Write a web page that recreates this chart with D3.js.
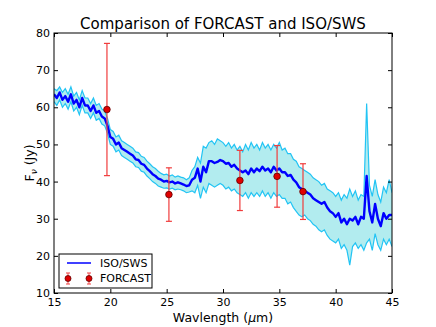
<!DOCTYPE html>
<html>
<head>
<meta charset="utf-8">
<script src="https://cdn.jsdelivr.net/npm/d3@7"></script>
<style>
  html, body { margin: 0; padding: 0; background: #fff; }
  svg { display: block; font-family: "DejaVu Sans", sans-serif; }
</style>
</head>
<body>
<svg width="436" height="327"></svg>
<script>
// ISO/SWS spectrum, 15 to 45 um in steps of 0.25 um
var wlStart = 15, wlStep = 0.25;

var sws = [
  63.5, 62.5, 64.0, 62.0, 63.0, 61.5, 63.5, 61.0, 62.0, 60.0,
  62.5, 60.5, 60.5, 59.0, 60.5, 58.5, 59.0, 57.5, 57.0, 55.0,
  52.0, 51.5, 50.0, 50.5, 49.0, 48.5, 48.0, 47.5, 47.0, 46.0,
  45.8, 44.8, 44.5, 43.5, 42.8, 42.0, 41.5, 40.8, 40.5, 40.0,
  40.2, 39.8, 40.0, 39.5, 39.8, 39.5, 39.2, 38.8, 39.0, 40.5,
  41.0, 43.5, 40.0, 44.0, 42.5, 45.5, 45.5, 45.0, 45.3, 45.8,
  45.5, 44.8, 45.0, 44.0, 44.5, 43.5, 43.0, 42.5, 43.0, 42.0,
  43.5, 42.5, 43.5, 42.8, 44.0, 43.0, 43.5, 42.5, 44.0, 43.0,
  43.5, 42.5, 42.5, 41.5, 41.8, 40.5, 39.8, 38.5, 38.0, 37.5,
  37.0, 36.5, 35.5, 35.0, 34.5, 34.0, 34.5, 33.0, 32.0, 31.5,
  30.5, 31.5, 29.0, 30.0, 28.5, 30.0, 29.5, 30.5, 28.5, 30.5,
  30.0, 41.5, 32.0, 29.0, 34.0, 30.0, 28.0, 31.5, 30.0, 31.0,
  31.0
];

var swsHi = [
  65.0, 64.5, 65.5, 64.0, 65.0, 63.5, 65.5, 63.0, 64.0, 62.0,
  64.5, 62.5, 62.5, 61.0, 62.5, 60.5, 61.0, 59.5, 59.0, 57.0,
  54.0, 53.5, 52.0, 52.5, 51.0, 50.5, 50.0, 49.5, 49.0, 48.0,
  47.8, 46.8, 46.5, 45.5, 44.8, 44.0, 43.5, 42.8, 42.2, 41.8,
  42.0, 41.5, 41.8, 41.2, 41.5, 41.2, 41.0, 40.5, 41.0, 43.0,
  44.0, 46.5, 45.0, 49.5, 49.0, 50.5, 51.0, 50.0, 51.5, 51.0,
  50.5, 49.5, 50.5, 49.0, 50.0, 48.5, 49.5, 48.0, 50.0, 48.5,
  50.5, 49.0, 50.0, 48.5, 50.5, 49.0, 50.0, 48.5, 50.0, 49.0,
  50.5, 48.5, 49.0, 47.5, 47.5, 46.0, 45.5, 44.0, 43.5, 43.0,
  42.5, 42.0, 41.0, 40.5, 40.0, 39.0, 39.5, 38.0, 37.5, 37.0,
  36.0, 37.0, 35.0, 36.5, 35.5, 38.0, 36.0, 37.5, 35.0, 36.5,
  36.0, 61.0, 39.0, 36.0, 40.5, 36.5, 34.5, 38.5, 37.0, 40.5,
  37.0
];

var swsLo = [
  61.5, 60.5, 62.0, 60.0, 61.0, 59.5, 61.5, 59.0, 60.0, 58.0,
  60.5, 58.5, 58.5, 57.0, 58.5, 56.5, 57.0, 55.5, 55.0, 53.0,
  50.0, 49.5, 48.0, 48.5, 47.0, 46.5, 46.0, 45.5, 45.0, 44.0,
  43.8, 42.8, 42.5, 41.5, 40.8, 40.0, 39.5, 38.8, 38.5, 38.2,
  38.3, 38.0, 38.2, 37.8, 38.0, 37.8, 37.5, 37.0, 37.2, 37.5,
  37.0, 39.0, 35.5, 38.5, 37.0, 39.5, 39.0, 38.5, 39.0, 39.5,
  39.0, 38.0, 38.5, 37.5, 38.0, 37.0, 36.5, 36.0, 37.0, 35.5,
  37.0, 36.0, 37.0, 36.0, 37.5, 36.0, 37.0, 35.5, 37.0, 36.0,
  36.5, 35.5, 35.5, 34.0, 34.5, 33.0, 32.0, 31.0, 30.5, 31.0,
  30.0, 29.5, 28.5, 28.0, 27.0, 26.5, 27.0, 25.5, 24.5, 24.0,
  23.5, 24.5, 22.0, 23.0, 21.5, 17.5, 22.5, 23.5, 22.0, 23.0,
  21.5, 23.5, 24.5, 21.5, 26.0, 23.0, 21.5, 24.5, 23.0, 24.5,
  22.5
];

// FORCAST photometry
var forcastWl = [19.7, 25.2, 31.5, 34.8, 37.1];
var forcastFlux = [59.4, 36.5, 40.3, 41.4, 37.3];
var forcastErr = [17.8, 7.2, 8.1, 8.3, 7.5];

var xTicks = [15, 20, 25, 30, 35, 40, 45];
var yTicks = [10, 20, 30, 40, 50, 60, 70, 80];

var svg = d3.select("svg"),
    plotL = 54, plotR = 392, plotT = 33, plotB = 293;

var x = d3.scaleLinear().domain([15, 45]).range([plotL, plotR]),
    y = d3.scaleLinear().domain([10, 80]).range([plotB, plotT]);

var spec = sws.map(function(v, i) {
  return { w: wlStart + i * wlStep, f: v, hi: swsHi[i], lo: swsLo[i] };
});

svg.append("clipPath").attr("id", "plotclip")
  .append("rect")
    .attr("x", plotL).attr("y", plotT)
    .attr("width", plotR - plotL).attr("height", plotB - plotT);

var plot = svg.append("g").attr("clip-path", "url(#plotclip)");

plot.append("path")
    .datum(spec)
    .attr("fill", "#b2ecef")
    .attr("d", d3.area()
        .x(function(d) { return x(d.w); })
        .y0(function(d) { return y(d.lo); })
        .y1(function(d) { return y(d.hi); }));

["hi", "lo"].forEach(function(k) {
  plot.append("path")
      .datum(spec)
      .attr("fill", "none")
      .attr("stroke", "#22c4f4")
      .attr("stroke-width", 1.2)
      .attr("d", d3.line()
          .x(function(d) { return x(d.w); })
          .y(function(d) { return y(d[k]); }));
});

plot.append("path")
    .datum(spec)
    .attr("fill", "none")
    .attr("stroke", "#0000ff")
    .attr("stroke-width", 2.4)
    .attr("stroke-linejoin", "round")
    .attr("d", d3.line()
        .x(function(d) { return x(d.w); })
        .y(function(d) { return y(d.f); }));

// error bars + points
var pts = forcastWl.map(function(w, i) {
  return { w: w, f: forcastFlux[i], e: forcastErr[i] };
});

var eb = plot.selectAll(".eb").data(pts).enter().append("g")
    .attr("stroke", "#f03c3c")
    .attr("stroke-width", 1.2);

eb.append("line")
    .attr("x1", function(d) { return x(d.w); })
    .attr("x2", function(d) { return x(d.w); })
    .attr("y1", function(d) { return y(d.f - d.e); })
    .attr("y2", function(d) { return y(d.f + d.e); });

[-1, 1].forEach(function(s) {
  eb.append("line")
      .attr("x1", function(d) { return x(d.w) - 3; })
      .attr("x2", function(d) { return x(d.w) + 3; })
      .attr("y1", function(d) { return y(d.f + s * d.e); })
      .attr("y2", function(d) { return y(d.f + s * d.e); });
});

plot.selectAll(".pt").data(pts).enter().append("circle")
    .attr("cx", function(d) { return x(d.w); })
    .attr("cy", function(d) { return y(d.f); })
    .attr("r", 3.3)
    .attr("fill", "#e00000")
    .attr("stroke", "#600000")
    .attr("stroke-width", 0.8);

// axes, ticks pointing inward on all sides
function styleAxis(g) {
  g.select(".domain").remove();
  g.selectAll("line").attr("stroke", "#000");
  g.selectAll("text").attr("fill", "#000")
      .style("font-family", "DejaVu Sans, sans-serif")
      .style("font-size", "11px");
}

svg.append("g")
    .attr("transform", "translate(0," + plotB + ")")
    .call(d3.axisBottom(x).tickValues(xTicks).tickFormat(d3.format("d"))
        .tickSizeInner(-4).tickSizeOuter(0).tickPadding(5))
    .call(styleAxis);

svg.append("g")
    .attr("transform", "translate(0," + plotT + ")")
    .call(d3.axisTop(x).tickValues(xTicks).tickFormat("")
        .tickSizeInner(-4).tickSizeOuter(0))
    .call(styleAxis);

svg.append("g")
    .attr("transform", "translate(" + plotL + ",0)")
    .call(d3.axisLeft(y).tickValues(yTicks).tickFormat(d3.format("d"))
        .tickSizeInner(-4).tickSizeOuter(0).tickPadding(4))
    .call(styleAxis);

svg.append("g")
    .attr("transform", "translate(" + plotR + ",0)")
    .call(d3.axisRight(y).tickValues(yTicks).tickFormat("")
        .tickSizeInner(-4).tickSizeOuter(0))
    .call(styleAxis);

svg.append("rect")
    .attr("x", plotL).attr("y", plotT)
    .attr("width", plotR - plotL).attr("height", plotB - plotT)
    .attr("fill", "none").attr("stroke", "#000").attr("stroke-width", 1);

// title and labels
svg.append("text")
    .attr("x", (plotL + plotR) / 2).attr("y", 29)
    .attr("text-anchor", "middle")
    .style("font-size", "15px")
    .text("Comparison of FORCAST and ISO/SWS");

var xl = svg.append("text")
    .attr("x", (plotL + plotR) / 2).attr("y", 322)
    .attr("text-anchor", "middle")
    .style("font-size", "12.5px");
xl.append("tspan").text("Wavlength (");
xl.append("tspan").style("font-style", "italic").text("\u03bc");
xl.append("tspan").text("m)");

var yl = svg.append("text")
    .attr("transform", "translate(34," + ((plotT + plotB) / 2) + ") rotate(-90)")
    .attr("text-anchor", "middle")
    .style("font-size", "12.5px");
yl.append("tspan").text("F");
yl.append("tspan").attr("dy", 3).style("font-size", "9px")
    .style("font-style", "italic").text("\u03bd");
yl.append("tspan").attr("dy", -3).text(" (Jy)");

// legend
var lg = svg.append("g");
lg.append("rect")
    .attr("x", 59).attr("y", 254).attr("width", 93).attr("height", 34)
    .attr("fill", "#fff").attr("stroke", "#000").attr("stroke-width", 1);
lg.append("line")
    .attr("x1", 67).attr("x2", 91).attr("y1", 263).attr("y2", 263)
    .attr("stroke", "#0000ff").attr("stroke-width", 1.5);
lg.append("text").attr("x", 100).attr("y", 267)
    .style("font-size", "11px").text("ISO/SWS");
[68, 89].forEach(function(cx) {
  var g = lg.append("g").attr("stroke", "#f06060").attr("stroke-width", 1.2);
  g.append("line").attr("x1", cx).attr("x2", cx).attr("y1", 273).attr("y2", 284);
  g.append("line").attr("x1", cx - 2).attr("x2", cx + 2).attr("y1", 273).attr("y2", 273);
  g.append("line").attr("x1", cx - 2).attr("x2", cx + 2).attr("y1", 284).attr("y2", 284);
  lg.append("circle").attr("cx", cx).attr("cy", 278.5).attr("r", 3)
      .attr("fill", "#e00000").attr("stroke", "#600000").attr("stroke-width", 0.8);
});
lg.append("text").attr("x", 100).attr("y", 282)
    .style("font-size", "11px").text("FORCAST");
</script>
</body>
</html>
